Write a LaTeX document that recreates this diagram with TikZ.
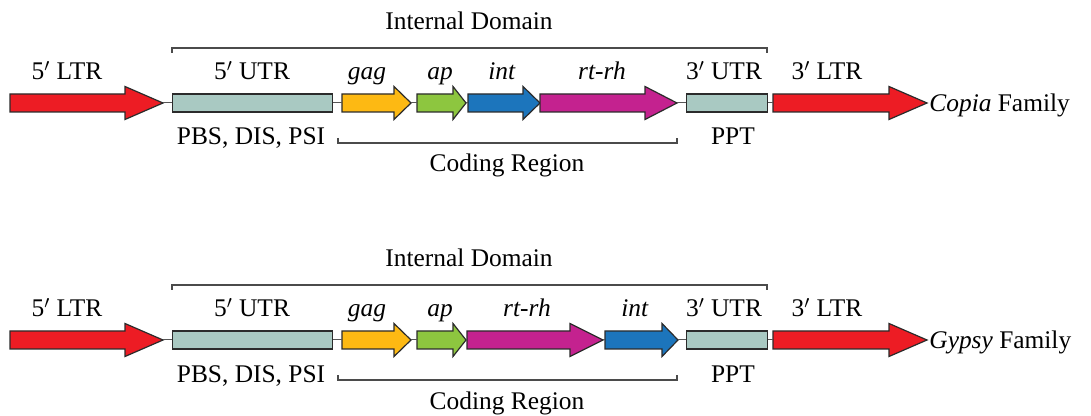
\documentclass[tikz,border=0pt]{standalone}
\usepackage{fontspec}
\setmainfont{Liberation Serif}
\usepackage{tikz}
\usepackage{xcolor}

\definecolor{ltrred}{HTML}{ED1C24}
\definecolor{utrgrey}{HTML}{A9C9C2}
\definecolor{gagyellow}{HTML}{FDB913}
\definecolor{apgreen}{HTML}{8DC63F}
\definecolor{intblue}{HTML}{1C75BC}
\definecolor{rtmagenta}{HTML}{C4228F}
\definecolor{outline}{HTML}{2B2B2B}

\tikzset{
  genepart/.style={draw=outline, line width=0.6pt},
  utrbox/.style={genepart, fill=utrgrey, rectangle, inner sep=0pt, minimum height=9pt, anchor=west},
  link/.style={draw=outline!80, line width=0.5pt},
  bracket/.style={draw=outline!85, line width=0.7pt},
  lbl/.style={font=\fontsize{12.7}{15}\selectfont, anchor=base, inner sep=0pt},
}

% gene arrow: name, fill, tail, head start, tip, row
\newcommand{\genearrow}[6]{%
  \draw[genepart, fill=#2] (#3,{#6-9}) -- (#4,{#6-9}) -- (#4,{#6-16.5}) -- (#5,#6)
    -- (#4,{#6+16.5}) -- (#4,{#6+9}) -- (#3,{#6+9}) -- cycle;
  \coordinate (#1-tail) at (#3,#6);
  \coordinate (#1-tip) at (#5,#6);
}

\begin{document}
\begin{tikzpicture}[x=0.5pt, y=-0.5pt]
\useasboundingbox (0,0) rectangle (1091,416);

% Copia row
\genearrow{ltrA5}{ltrred}{10}{125}{163}{103}
\node[utrbox, minimum width=80pt] (utrA5) at (172,103) {};
\genearrow{gagA}{gagyellow}{342}{394}{411}{103}
\genearrow{apA}{apgreen}{417}{453}{466}{103}
\genearrow{intA}{intblue}{468}{523}{540}{103}
\genearrow{rtA}{rtmagenta}{540}{645}{677}{103}
\node[utrbox, minimum width=40.5pt] (utrA3) at (686,103) {};
\genearrow{ltrA3}{ltrred}{773}{889}{927}{103}

\draw[link] (ltrA5-tip) -- (utrA5.west);
\draw[link] (utrA5.east) -- (gagA-tail);
\draw[link] (gagA-tip) -- (apA-tail);
\draw[link] (apA-tip) -- (intA-tail);
\draw[link] (rtA-tip) -- (utrA3.west);
\draw[link] (utrA3.east) -- (ltrA3-tail);

% labels
\node[lbl] (lA1) at (67,80) {5$'$ LTR};
\node[lbl] (lA2) at (252,80) {5$'$ UTR};
\node[lbl] (lA3) at (367,80) {\textit{gag}};
\node[lbl] (lA4) at (440,80) {\textit{ap}};
\node[lbl] (lA5) at (502,80) {\textit{int}};
\node[lbl] (lA6) at (602,80) {\textit{rt-rh}};
\node[lbl] (lA7) at (724,80) {3$'$ UTR};
\node[lbl] (lA8) at (827,80) {3$'$ LTR};
\node[lbl, anchor=base west] (famA) at (929,112) {\textit{Copia} Family};
\node[lbl] (pbsA) at (251,145) {PBS, DIS, PSI};
\node[lbl] (pptA) at (733,145) {PPT};

% brackets
\coordinate (idA-l) at (172,48);
\coordinate (idA-r) at (767,48);
\draw[bracket] ([yshift=-2.5pt]idA-l) -- (idA-l) -- (idA-r) -- ([yshift=-2.5pt]idA-r);
\node[lbl] (idA) at (469,30) {Internal Domain};
\coordinate (crA-l) at (338,143);
\coordinate (crA-r) at (677,143);
\draw[bracket] ([yshift=2.5pt]crA-l) -- (crA-l) -- (crA-r) -- ([yshift=2.5pt]crA-r);
\node[lbl] (crA) at (507,172) {Coding Region};

% Gypsy row
\genearrow{ltrB5}{ltrred}{10}{125}{163}{340}
\node[utrbox, minimum width=80pt] (utrB5) at (172,340) {};
\genearrow{gagB}{gagyellow}{342}{394}{411}{340}
\genearrow{apB}{apgreen}{417}{453}{466}{340}
\genearrow{rtB}{rtmagenta}{467}{570}{603}{340}
\genearrow{intB}{intblue}{605}{662}{678}{340}
\node[utrbox, minimum width=40.5pt] (utrB3) at (686,340) {};
\genearrow{ltrB3}{ltrred}{773}{889}{927}{340}

\draw[link] (ltrB5-tip) -- (utrB5.west);
\draw[link] (utrB5.east) -- (gagB-tail);
\draw[link] (gagB-tip) -- (apB-tail);
\draw[link] (rtB-tip) -- (intB-tail);
\draw[link] (intB-tip) -- (utrB3.west);
\draw[link] (utrB3.east) -- (ltrB3-tail);

% labels
\node[lbl] (lB1) at (67,317) {5$'$ LTR};
\node[lbl] (lB2) at (252,317) {5$'$ UTR};
\node[lbl] (lB3) at (367,317) {\textit{gag}};
\node[lbl] (lB4) at (440,317) {\textit{ap}};
\node[lbl] (lB5) at (527,317) {\textit{rt-rh}};
\node[lbl] (lB6) at (635,317) {\textit{int}};
\node[lbl] (lB7) at (724,317) {3$'$ UTR};
\node[lbl] (lB8) at (827,317) {3$'$ LTR};
\node[lbl, anchor=base west] (famB) at (929,349) {\textit{Gypsy} Family};
\node[lbl] (pbsB) at (251,382) {PBS, DIS, PSI};
\node[lbl] (pptB) at (733,382) {PPT};

% brackets
\coordinate (idB-l) at (172,285);
\coordinate (idB-r) at (767,285);
\draw[bracket] ([yshift=-2.5pt]idB-l) -- (idB-l) -- (idB-r) -- ([yshift=-2.5pt]idB-r);
\node[lbl] (idB) at (469,267) {Internal Domain};
\coordinate (crB-l) at (338,380);
\coordinate (crB-r) at (677,380);
\draw[bracket] ([yshift=2.5pt]crB-l) -- (crB-l) -- (crB-r) -- ([yshift=2.5pt]crB-r);
\node[lbl] (crB) at (507,409) {Coding Region};
\end{tikzpicture}
\end{document}
